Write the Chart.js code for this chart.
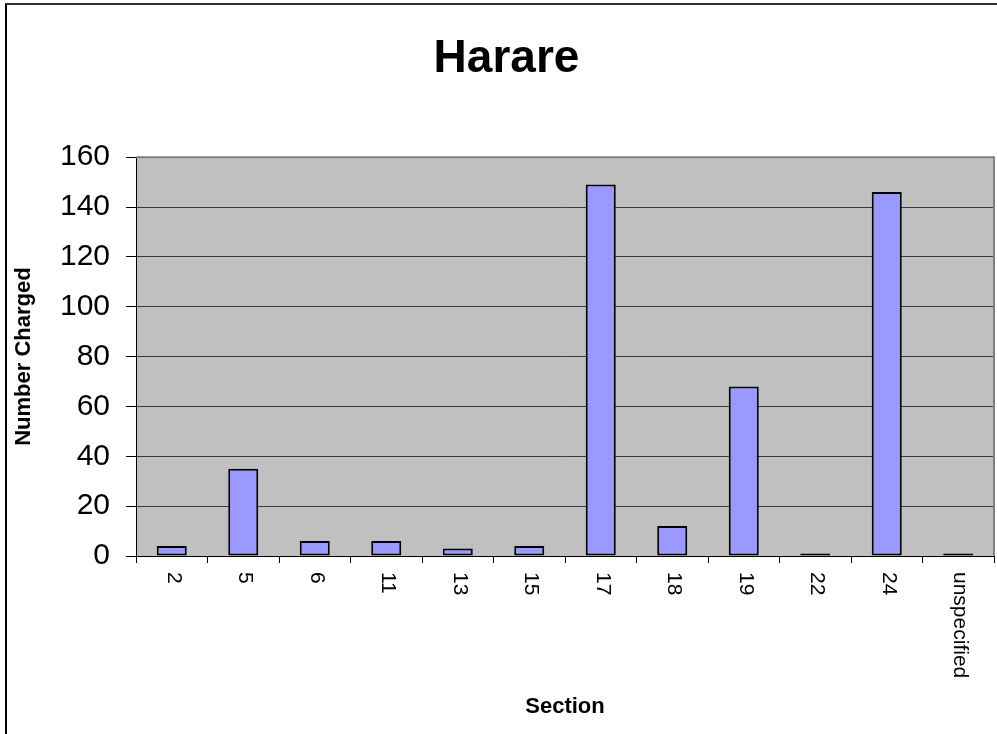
<!DOCTYPE html>
<html>
<head>
<meta charset="utf-8">
<script src="https://cdn.jsdelivr.net/npm/chart.js@4/dist/chart.umd.min.js"></script>
<style>
  html, body { margin: 0; padding: 0; overflow: hidden; background: #fff; width: 997px; height: 734px; }
  #frame { position: absolute; left: 5px; top: 3px; width: 1200px; height: 800px;
           border-top: 2px solid #333; border-left: 2px solid #000; box-sizing: border-box; }
  #c { position: absolute; left: 0; top: 0; }
</style>
</head>
<body>
<div id="frame"></div>
<canvas id="c" width="1013" height="734"></canvas>
<script>
const categories = ['2', '5', '6', '11', '13', '15', '17', '18', '19', '22', '24', 'unspecified'];
const numberCharged = [4, 35, 6, 6, 3, 4, 149, 12, 68, 1, 146, 1];
const chartTitle = 'Harare';
const xTitle = 'Section';
const yTitle = 'Number Charged';
const yMax = 160;
const yStep = 20;

const FONT = "'Liberation Sans', Arial, sans-serif";

const plotDecor = {
  id: 'plotDecor',
  beforeDraw(chart) {
    const a = chart.chartArea, ctx = chart.ctx;
    ctx.save();
    ctx.fillStyle = '#C0C0C0';
    ctx.fillRect(a.left, a.top, a.right - a.left, a.bottom - a.top);
    ctx.restore();
  },
  afterDraw(chart) {
    const a = chart.chartArea, ctx = chart.ctx;
    ctx.save();
    ctx.strokeStyle = '#808080';
    ctx.lineWidth = 2;
    ctx.beginPath();
    ctx.moveTo(a.left, a.top);
    ctx.lineTo(a.right, a.top);
    ctx.lineTo(a.right, a.bottom);
    ctx.stroke();
    // x tick labels, rotated clockwise (reading top to bottom)
    const xs = chart.scales.x;
    ctx.fillStyle = '#000';
    ctx.font = '21px ' + FONT;
    ctx.textAlign = 'left';
    ctx.textBaseline = 'middle';
    categories.forEach((lab, i) => {
      const x = xs.getPixelForTick(i) + 2;
      const y = xs.top + 16;
      ctx.save();
      ctx.translate(x, y);
      ctx.rotate(Math.PI / 2);
      ctx.fillText(lab, 0, 0);
      ctx.restore();
    });
    ctx.restore();
  }
};

new Chart(document.getElementById('c'), {
  type: 'bar',
  data: {
    labels: categories,
    datasets: [{
      data: numberCharged,
      backgroundColor: '#9999FF',
      borderColor: '#000000',
      borderWidth: 2,
      borderSkipped: false,
      barPercentage: 0.42,
      categoryPercentage: 1.0
    }]
  },
  options: {
    responsive: false,
    animation: false,
    devicePixelRatio: 1,
    layout: { padding: { left: 0, right: 0, top: 0, bottom: 0 } },
    plugins: {
      legend: { display: false },
      tooltip: { enabled: false },
      title: {
        display: true,
        text: chartTitle,
        color: '#000',
        font: { family: FONT, size: 46, weight: 'bold' },
        padding: { top: 32, bottom: 70 }
      }
    },
    scales: {
      x: {
        type: 'category',
        offset: true,
        grid: { drawOnChartArea: false, offset: true, tickColor: '#000', tickLength: 7, lineWidth: 1 },
        border: { color: '#000', width: 1 },
        ticks: { display: false },
        title: {
          display: true,
          text: xTitle,
          color: '#000',
          font: { family: FONT, size: 22, weight: 'bold' },
          padding: { top: 0, bottom: 14 }
        },
        afterFit(scale) { scale.height = 178; }
      },
      y: {
        min: 0,
        max: yMax,
        position: 'left',
        grid: { color: '#3a3a3a', tickColor: '#000', tickLength: 10, lineWidth: 1 },
        border: { color: '#000', width: 1 },
        ticks: {
          stepSize: yStep,
          color: '#000',
          padding: 16,
          font: { family: FONT, size: 30 }
        },
        title: {
          display: true,
          text: yTitle,
          color: '#000',
          font: { family: FONT, size: 22, weight: 'bold' },
          padding: { top: 11, bottom: 0 }
        },
        afterFit(scale) { scale.width = 136; }
      },
      yR: {
        type: 'linear',
        position: 'right',
        display: true,
        grid: { display: false, drawTicks: false },
        border: { display: false },
        ticks: { display: false },
        afterFit(scale) { scale.width = 19; }
      }
    }
  },
  plugins: [plotDecor]
});
</script>
</body>
</html>
